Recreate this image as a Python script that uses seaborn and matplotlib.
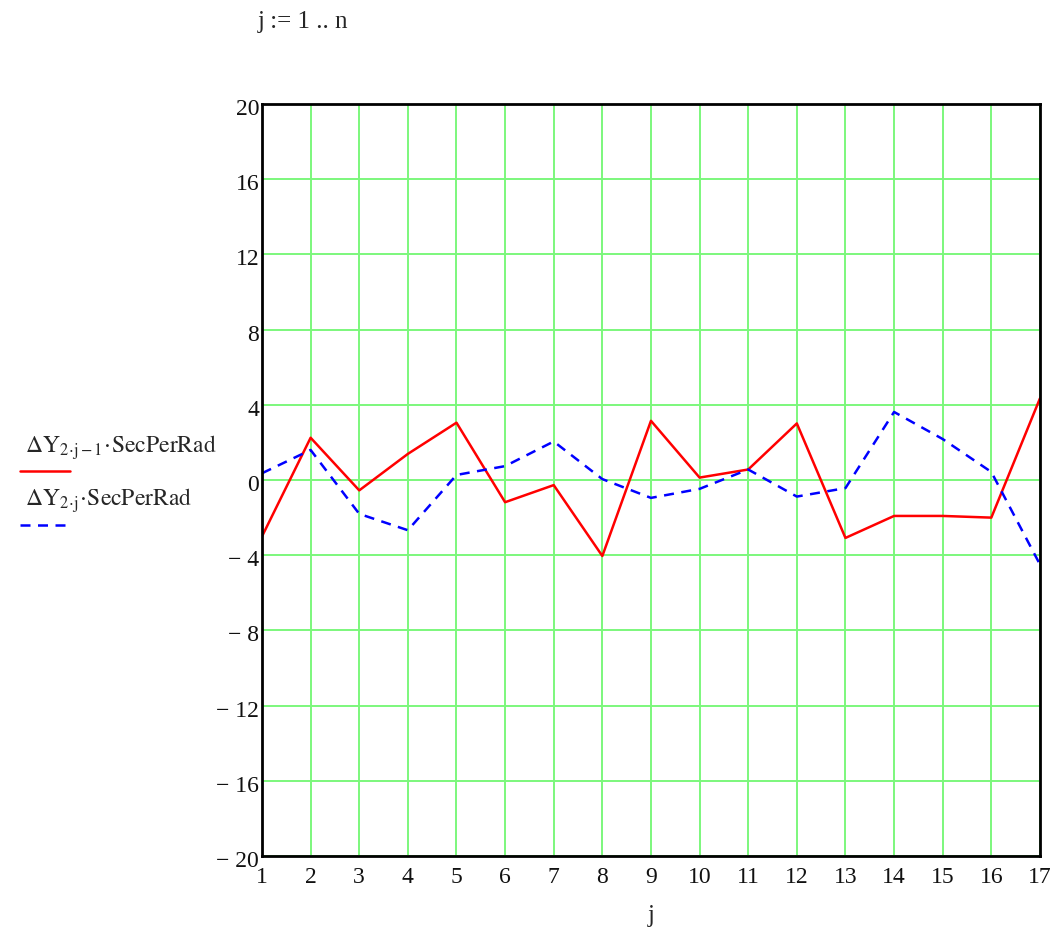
import matplotlib
matplotlib.use("Agg")
import matplotlib.pyplot as plt
import seaborn as sns
import pandas as pd
from matplotlib.transforms import offset_copy

# -----------------------------
# data
# -----------------------------
j = list(range(1, 18))
odd_vals = [-3.0, 2.25, -0.55, 1.39, 3.05, -1.18, -0.27, -4.04, 3.15,
            0.13, 0.56, 3.01, -3.08, -1.91, -1.91, -2.0, 4.34]
even_vals = [0.36, 1.6, -1.8, -2.67, 0.27, 0.74, 2.05, 0.05, -0.95,
             -0.47, 0.56, -0.88, -0.43, 3.62, 2.18, 0.43, -4.49]
y_ticks = list(range(-20, 21, 4))

df = pd.DataFrame({"j": j, "odd": odd_vals, "even": even_vals})

sns.set_style("white")
plt.rcParams["font.family"] = ["Liberation Serif", "DejaVu Serif"]
plt.rcParams["mathtext.fontset"] = "stix"

fig = plt.figure(figsize=(10.59, 9.33), dpi=100)
ax = fig.add_axes([0.2474, 0.0825, 0.7346, 0.806])

sns.lineplot(data=df, x="j", y="odd", ax=ax, color="red", lw=1.8)
sns.lineplot(data=df, x="j", y="even", ax=ax, color="blue", lw=1.8,
             linestyle=(0, (4, 3)))

ax.set_xlim(1, 17)
ax.set_ylim(-20, 20)
ax.set_xticks(j)
ax.set_yticks(y_ticks)
ax.set_yticklabels([f"\u2212 {abs(v)}" if v < 0 else str(v) for v in y_ticks])
ax.grid(True, color="#7cf77c", lw=1.4)
ax.set_axisbelow(True)
for s in ax.spines.values():
    s.set_color("black")
    s.set_linewidth(2)
ax.tick_params(axis="both", length=0, labelsize=17, colors="#111111")
ax.tick_params(axis="x", pad=8)
ax.tick_params(axis="y", pad=2)
ax.set_xlabel("j", fontsize=18, labelpad=12)
ax.set_ylabel("")

# y labels sit a little under their grid line, as in the reference
for lab in ax.get_yticklabels():
    lab.set_transform(offset_copy(lab.get_transform(), fig=fig, y=-3, units="dots"))

# legend drawn Mathcad style on the left
fig.text(25 / 1059, 1 - 448 / 933,
         r"$\Delta\mathrm{Y}_{2\!\cdot\!\mathrm{j}-1}\!\cdot\!\mathrm{SecPerRad}$",
         fontsize=17, va="center", ha="left")
fig.add_artist(plt.Line2D([20 / 1059, 70 / 1059], [1 - 471 / 933] * 2,
                          color="red", lw=1.8))
fig.text(25 / 1059, 1 - 501 / 933,
         r"$\Delta\mathrm{Y}_{2\!\cdot\!\mathrm{j}}\!\cdot\!\mathrm{SecPerRad}$",
         fontsize=17, va="center", ha="left")
fig.add_artist(plt.Line2D([20 / 1059, 70 / 1059], [1 - 525 / 933] * 2,
                          color="blue", lw=1.8, linestyle=(0, (4, 3))))

fig.text(258 / 1059, 1 - 22 / 933, "j := 1 .. n", fontsize=18,
         va="center", ha="left")

fig.savefig("out.png", dpi=100)
